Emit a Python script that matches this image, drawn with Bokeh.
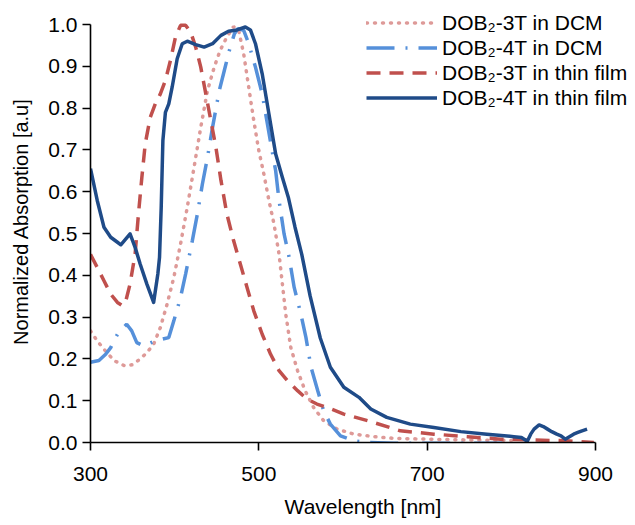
from bokeh.plotting import figure
from bokeh.models import Legend, LegendItem, FixedTicker, Range1d, NumeralTickFormatter
from bokeh.embed import file_html
from bokeh.resources import INLINE

# --- data ---
wl_3t_dcm = [300, 308, 316, 328, 340, 350, 359, 367, 375, 383, 391, 399, 407, 415, 423, 431, 439,
             447, 454, 462, 470, 476, 482, 488, 494, 500, 506, 512, 518, 524, 528, 532, 538, 546,
             555, 565, 577, 593, 613, 637, 660, 700, 750, 800]
ab_3t_dcm = [0.267, 0.243, 0.223, 0.196, 0.184, 0.186, 0.200, 0.215, 0.235, 0.275, 0.331, 0.395,
             0.475, 0.563, 0.658, 0.754, 0.842, 0.898, 0.938, 0.970, 0.995, 0.986, 0.930, 0.850,
             0.770, 0.698, 0.642, 0.579, 0.523, 0.451, 0.379, 0.307, 0.227, 0.172, 0.124, 0.084,
             0.052, 0.032, 0.020, 0.014, 0.010, 0.008, 0.006, 0.005]

wl_4t_dcm = [300, 310, 318, 324, 332, 343, 349, 355, 363, 377, 393, 399, 407, 413, 421, 427, 433,
             439, 445, 453, 459, 465, 471, 475, 482, 488, 496, 504, 514, 520, 524, 530, 536, 542,
             550, 556, 562, 570, 577, 585, 597, 613, 629, 660, 700, 750, 800]
ab_4t_dcm = [0.192, 0.196, 0.211, 0.227, 0.259, 0.283, 0.267, 0.239, 0.231, 0.243, 0.251, 0.291,
             0.347, 0.403, 0.483, 0.547, 0.619, 0.682, 0.754, 0.842, 0.890, 0.938, 0.978, 0.990,
             0.986, 0.954, 0.898, 0.834, 0.718, 0.650, 0.579, 0.499, 0.443, 0.371, 0.307, 0.251,
             0.180, 0.124, 0.076, 0.044, 0.016, 0.004, 0.000, -0.002, -0.002, -0.002, -0.002]

wl_3t_film = [300, 308, 316, 324, 332, 338, 342, 347, 353, 357, 361, 365, 371, 377, 383, 389, 395,
              401, 407, 413, 419, 425, 431, 437, 443, 449, 455, 462, 470, 478, 486, 494, 504, 514,
              524, 534, 546, 557, 569, 581, 601, 633, 668, 708, 748, 787, 827, 866, 898]
ab_3t_film = [0.450, 0.419, 0.387, 0.355, 0.335, 0.327, 0.339, 0.379, 0.451, 0.547, 0.634, 0.714,
              0.778, 0.810, 0.834, 0.866, 0.914, 0.970, 0.998, 0.998, 0.982, 0.946, 0.898, 0.834,
              0.770, 0.706, 0.627, 0.547, 0.483, 0.427, 0.371, 0.315, 0.259, 0.211, 0.172, 0.148,
              0.124, 0.104, 0.092, 0.084, 0.068, 0.050, 0.028, 0.020, 0.014, 0.008, 0.006, 0.004,
              0.000]

wl_4t_film = [300, 308, 316, 324, 332, 336, 342, 347, 353, 359, 367, 375, 380, 382, 384, 386, 389,
              393, 397, 403, 409, 415, 425, 435, 445, 455, 464, 474, 484, 490, 496, 504, 512, 520,
              528, 535, 543, 551, 561, 573, 585, 601, 619, 633, 652, 680, 708, 740, 771, 803, 812,
              819, 823, 827, 833, 838, 843, 848, 854, 859, 864, 869, 874, 879, 884, 890]
ab_4t_film = [0.655, 0.579, 0.515, 0.491, 0.479, 0.473, 0.487, 0.499, 0.467, 0.427, 0.379, 0.335,
              0.403, 0.443, 0.562, 0.722, 0.790, 0.810, 0.850, 0.918, 0.954, 0.960, 0.952, 0.946,
              0.954, 0.974, 0.984, 0.987, 0.994, 0.987, 0.954, 0.882, 0.786, 0.690, 0.634, 0.587,
              0.515, 0.450, 0.350, 0.250, 0.180, 0.132, 0.108, 0.080, 0.060, 0.044, 0.036, 0.026,
              0.020, 0.014, 0.012, 0.003, 0.020, 0.032, 0.042, 0.038, 0.032, 0.026, 0.020, 0.016,
              0.008, 0.014, 0.020, 0.024, 0.028, 0.032]

labels = ["DOB\u2082-3T in DCM", "DOB\u2082-4T in DCM",
          "DOB\u2082-3T in thin film", "DOB\u2082-4T in thin film"]
x_ticks = [300, 500, 700, 900]
y_ticks = [0.0, 0.1, 0.2, 0.3, 0.4, 0.5, 0.6, 0.7, 0.8, 0.9, 1.0]
X_MIN, X_MAX = 300, 900
Y_MIN, Y_MAX = 0.0, 1.0

FONT = "Liberation Sans"

# layout (pixels): the frame is extended right and up so that the legend,
# which sits partly outside the axes area, is not clipped
W, H = 635, 525
LEFT, BOTTOM = 90, 83
AX_W, AX_H = 505, 418          # pixel span of 300..900 and 0..1
frame_w, frame_h = W - LEFT, H - BOTTOM
x_end = X_MIN + (X_MAX - X_MIN) * frame_w / AX_W
y_end = Y_MIN + (Y_MAX - Y_MIN) * frame_h / AX_H

p = figure(width=W, height=H, output_backend="svg", toolbar_location=None,
           x_range=Range1d(X_MIN, x_end), y_range=Range1d(Y_MIN, y_end),
           min_border_left=LEFT, min_border_right=0, min_border_top=0,
           min_border_bottom=BOTTOM)
p.outline_line_color = None
p.xgrid.visible = False
p.ygrid.visible = False
p.background_fill_color = "white"
p.border_fill_color = "white"

r1 = p.line(wl_3t_dcm, ab_3t_dcm, line_color="#DE9A98", line_width=3.5,
            line_dash="1 7", line_cap="round")
r2 = p.line(wl_4t_dcm, ab_4t_dcm, line_color="#5590DA", line_width=3.5,
            line_dash="28 11 2 11")
r3 = p.line(wl_3t_film, ab_3t_film, line_color="#C0504D", line_width=3.5,
            line_dash="14 9")
r4 = p.line(wl_4t_film, ab_4t_film, line_color="#1F4B88", line_width=3.5,
            line_join="round")

for ax in (p.xaxis[0], p.yaxis[0]):
    ax.axis_line_color = "black"
    ax.axis_line_width = 1.6
    ax.major_tick_line_color = "black"
    ax.major_tick_line_width = 1.6
    ax.major_tick_out = 8
    ax.major_tick_in = 0
    ax.minor_tick_line_color = None
    ax.major_label_text_font = FONT
    ax.major_label_text_font_size = "21px"
    ax.major_label_text_color = "black"
    ax.axis_label_text_font = FONT
    ax.axis_label_text_font_size = "21px"
    ax.axis_label_text_font_style = "normal"
    ax.axis_label_text_color = "black"

p.xaxis.bounds = (X_MIN, X_MAX)
p.yaxis.bounds = (Y_MIN, Y_MAX)
p.xaxis.ticker = FixedTicker(ticks=x_ticks)
p.yaxis.ticker = FixedTicker(ticks=y_ticks)
p.yaxis.formatter = NumeralTickFormatter(format="0.0")
p.xaxis.axis_label = "Wavelength [nm]"
p.yaxis.axis_label = "Normalized Absorption [a.u]"
p.yaxis.axis_label_text_font_size = "20px"
p.xaxis.major_label_standoff = 16
p.xaxis.axis_label_standoff = 11
p.yaxis.major_label_standoff = 5
p.yaxis.axis_label_standoff = 13

legend = Legend(items=[LegendItem(label=labels[0], renderers=[r1]),
                       LegendItem(label=labels[1], renderers=[r2]),
                       LegendItem(label=labels[2], renderers=[r3]),
                       LegendItem(label=labels[3], renderers=[r4])],
                location=(276, 332), orientation="vertical",
                glyph_width=71, glyph_height=15, label_height=25, spacing=0,
                label_standoff=5, padding=0, margin=0,
                label_text_font=FONT, label_text_font_size="21px",
                label_text_color="black",
                border_line_color=None, background_fill_alpha=0)
p.add_layout(legend, "center")

open("out.html", "w").write(file_html(p, INLINE))
